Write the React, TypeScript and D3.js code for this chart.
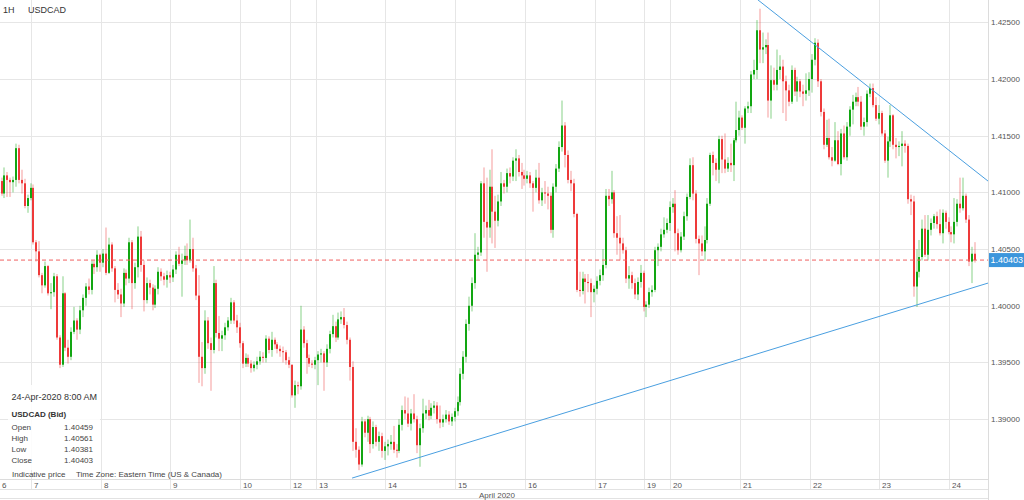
import React from 'react';
import * as d3 from 'd3';

// ---------- data: hourly candles per day, each [close, high, low]; open = previous close ----------
const firstOpen = 1.4110;

const day06 = [
  [1.4099, 1.4113, 1.4097], [1.4115, 1.4122, 1.4095], [1.4111, 1.4118, 1.4096], [1.4109, 1.4113, 1.4096],
  [1.4111, 1.4114, 1.4100], [1.4139, 1.4143, 1.4105], [1.4111, 1.4142, 1.4108], [1.4108, 1.4120, 1.4099],
  [1.4088, 1.4112, 1.4086], [1.4095, 1.4098, 1.4082], [1.4104, 1.4108, 1.4093],
];
const day07 = [
  [1.4056, 1.4107, 1.4054], [1.4048, 1.4058, 1.4039], [1.4027, 1.4057, 1.4025], [1.4018, 1.4029, 1.4011],
  [1.4035, 1.4039, 1.4016], [1.4011, 1.4036, 1.4009], [1.4012, 1.4020, 1.3997], [1.4026, 1.4029, 1.4008],
  [1.3972, 1.4028, 1.3970], [1.3948, 1.3974, 1.3945], [1.4011, 1.4026, 1.3946], [1.3963, 1.4012, 1.3960],
  [1.3955, 1.3970, 1.3949], [1.3977, 1.3981, 1.3952], [1.3987, 1.3999, 1.3975], [1.3979, 1.3989, 1.3970],
  [1.3996, 1.4000, 1.3975], [1.4007, 1.4010, 1.3990], [1.4017, 1.4020, 1.4000], [1.4014, 1.4024, 1.4010],
  [1.4037, 1.4040, 1.4010], [1.4034, 1.4040, 1.4028], [1.4045, 1.4049, 1.4030], [1.4038, 1.4046, 1.4030],
];
const day08 = [
  [1.4046, 1.4050, 1.4034], [1.4029, 1.4069, 1.4027], [1.4054, 1.4060, 1.4028], [1.4033, 1.4056, 1.4030],
  [1.4014, 1.4035, 1.4003], [1.4010, 1.4020, 1.4006], [1.4002, 1.4015, 1.3990], [1.4029, 1.4033, 1.3999],
  [1.4024, 1.4032, 1.4018], [1.4056, 1.4060, 1.4020], [1.4020, 1.4058, 1.3997], [1.4034, 1.4038, 1.4015],
  [1.4061, 1.4070, 1.4025], [1.4036, 1.4066, 1.4030], [1.4005, 1.4040, 1.3995], [1.4020, 1.4025, 1.4002],
  [1.4016, 1.4023, 1.4010], [1.4001, 1.4019, 1.3996], [1.4015, 1.4018, 1.3998], [1.4030, 1.4034, 1.4010],
  [1.4026, 1.4033, 1.4022], [1.4023, 1.4029, 1.4018], [1.4027, 1.4031, 1.4016], [1.4025, 1.4030, 1.4020],
];
const day09 = [
  [1.4032, 1.4036, 1.4021], [1.4045, 1.4048, 1.4028], [1.4037, 1.4052, 1.4035], [1.4040, 1.4046, 1.4008],
  [1.4044, 1.4053, 1.4036], [1.4040, 1.4055, 1.4036], [1.4050, 1.4076, 1.4038], [1.4033, 1.4060, 1.4030],
  [1.4009, 1.4036, 1.4005], [1.3955, 1.4027, 1.3932], [1.3945, 1.3968, 1.3929], [1.3987, 1.3996, 1.3940],
  [1.3967, 1.3990, 1.3962], [1.3961, 1.3972, 1.3925], [1.4020, 1.4035, 1.3958], [1.3976, 1.4023, 1.3972],
  [1.3971, 1.3991, 1.3960], [1.3974, 1.3978, 1.3960], [1.3981, 1.3985, 1.3970], [1.3987, 1.3990, 1.3978],
  [1.4003, 1.4007, 1.3984], [1.3987, 1.4005, 1.3984], [1.3981, 1.3992, 1.3976], [1.3967, 1.3985, 1.3963],
];
const day10 = [
  [1.3949, 1.3969, 1.3945], [1.3954, 1.3958, 1.3946], [1.3949, 1.3957, 1.3946], [1.3945, 1.3952, 1.3941],
  [1.3948, 1.3951, 1.3942], [1.3951, 1.3955, 1.3944], [1.3955, 1.3960, 1.3948], [1.3954, 1.3959, 1.3950],
  [1.3971, 1.3974, 1.3950], [1.3961, 1.3973, 1.3958], [1.3970, 1.3977, 1.3955], [1.3966, 1.3972, 1.3962],
  [1.3962, 1.3968, 1.3958], [1.3960, 1.3965, 1.3955], [1.3959, 1.3964, 1.3950], [1.3952, 1.3961, 1.3948],
  [1.3948, 1.3955, 1.3945],
];
const day12 = [
  [1.3921, 1.3948, 1.3919], [1.3930, 1.3934, 1.3910], [1.3929, 1.3933, 1.3922], [1.3979, 1.4000, 1.3926],
  [1.3967, 1.3982, 1.3963], [1.3954, 1.3970, 1.3940], [1.3949, 1.3957, 1.3946], [1.3948, 1.3952, 1.3945],
  [1.3952, 1.3955, 1.3944],
];
const day13 = [
  [1.3957, 1.3960, 1.3930], [1.3958, 1.3962, 1.3950], [1.3950, 1.3960, 1.3925], [1.3962, 1.3966, 1.3946],
  [1.3975, 1.3978, 1.3958], [1.3982, 1.3992, 1.3972], [1.3972, 1.3986, 1.3968], [1.3988, 1.3994, 1.3970],
  [1.3990, 1.3995, 1.3984], [1.3983, 1.3998, 1.3980], [1.3970, 1.3986, 1.3966], [1.3946, 1.3972, 1.3934],
  [1.3880, 1.3951, 1.3872], [1.3873, 1.3892, 1.3866], [1.3860, 1.3876, 1.3855], [1.3898, 1.3902, 1.3858],
  [1.3888, 1.3900, 1.3884], [1.3900, 1.3903, 1.3880], [1.3878, 1.3902, 1.3870], [1.3893, 1.3898, 1.3874],
  [1.3880, 1.3895, 1.3876], [1.3885, 1.3889, 1.3872], [1.3872, 1.3888, 1.3866], [1.3876, 1.3880, 1.3864],
];
const day14 = [
  [1.3878, 1.3882, 1.3868], [1.3880, 1.3886, 1.3873], [1.3873, 1.3894, 1.3870], [1.3872, 1.3878, 1.3866],
  [1.3895, 1.3900, 1.3870], [1.3908, 1.3912, 1.3890], [1.3905, 1.3920, 1.3900], [1.3896, 1.3919, 1.3893],
  [1.3905, 1.3909, 1.3890], [1.3900, 1.3922, 1.3897], [1.3877, 1.3903, 1.3870], [1.3892, 1.3896, 1.3858],
  [1.3905, 1.3918, 1.3888], [1.3908, 1.3912, 1.3900], [1.3903, 1.3917, 1.3899], [1.3910, 1.3914, 1.3900],
  [1.3912, 1.3916, 1.3905], [1.3900, 1.3915, 1.3896], [1.3897, 1.3912, 1.3892], [1.3900, 1.3904, 1.3893],
  [1.3904, 1.3908, 1.3897], [1.3898, 1.3907, 1.3895], [1.3902, 1.3905, 1.3894], [1.3907, 1.3910, 1.3898],
];
const day15 = [
  [1.3915, 1.3920, 1.3903], [1.3940, 1.3945, 1.3912], [1.3955, 1.3960, 1.3935], [1.3984, 1.3988, 1.3950],
  [1.4000, 1.4008, 1.3978], [1.4020, 1.4025, 1.3995], [1.4045, 1.4064, 1.4015], [1.4047, 1.4052, 1.4040],
  [1.4108, 1.4110, 1.4044], [1.4074, 1.4122, 1.4060], [1.4069, 1.4113, 1.4030], [1.4105, 1.4120, 1.4060],
  [1.4083, 1.4138, 1.4055], [1.4075, 1.4097, 1.4051], [1.4092, 1.4098, 1.4070], [1.4108, 1.4118, 1.4088],
  [1.4105, 1.4111, 1.4099], [1.4117, 1.4121, 1.4100], [1.4114, 1.4122, 1.4108], [1.4128, 1.4131, 1.4110],
  [1.4130, 1.4138, 1.4110], [1.4118, 1.4133, 1.4114], [1.4115, 1.4126, 1.4103], [1.4112, 1.4120, 1.4106],
];
const day16 = [
  [1.4115, 1.4119, 1.4108], [1.4108, 1.4118, 1.4104], [1.4104, 1.4110, 1.4083], [1.4113, 1.4120, 1.4100],
  [1.4093, 1.4126, 1.4090], [1.4100, 1.4104, 1.4088], [1.4099, 1.4110, 1.4090], [1.4097, 1.4105, 1.4085],
  [1.4067, 1.4100, 1.4064], [1.4105, 1.4108, 1.4060], [1.4121, 1.4125, 1.4100], [1.4140, 1.4145, 1.4118],
  [1.4159, 1.4181, 1.4136], [1.4133, 1.4162, 1.4122], [1.4111, 1.4137, 1.4108], [1.4108, 1.4119, 1.4101],
  [1.4081, 1.4112, 1.4078], [1.4014, 1.4082, 1.4012], [1.4013, 1.4030, 1.4008], [1.4024, 1.4030, 1.4010],
  [1.4021, 1.4028, 1.4002], [1.4020, 1.4028, 1.4012], [1.4012, 1.4024, 1.3990], [1.4015, 1.4018, 1.4003],
];
const day17 = [
  [1.4022, 1.4026, 1.4010], [1.4027, 1.4032, 1.4018], [1.4036, 1.4050, 1.4022], [1.4097, 1.4103, 1.4033],
  [1.4094, 1.4103, 1.4088], [1.4100, 1.4119, 1.4090], [1.4064, 1.4102, 1.4060], [1.4060, 1.4079, 1.4045],
  [1.4055, 1.4080, 1.4040], [1.4049, 1.4060, 1.4046], [1.4024, 1.4052, 1.4020], [1.4027, 1.4035, 1.4015],
  [1.4020, 1.4030, 1.4015], [1.4010, 1.4024, 1.4006], [1.4021, 1.4025, 1.4005], [1.4029, 1.4036, 1.4016],
  [1.3999, 1.4031, 1.3995],
];
const day19 = [
  [1.4001, 1.4004, 1.3990], [1.4012, 1.4016, 1.3998], [1.4014, 1.4018, 1.4008], [1.4049, 1.4052, 1.4012],
  [1.4052, 1.4055, 1.4035], [1.4063, 1.4068, 1.4048], [1.4067, 1.4078, 1.4060], [1.4073, 1.4077, 1.4064],
  [1.4087, 1.4092, 1.4066],
];
const day20 = [
  [1.4090, 1.4095, 1.4082], [1.4064, 1.4102, 1.4048], [1.4049, 1.4068, 1.4045], [1.4061, 1.4065, 1.4047],
  [1.4079, 1.4083, 1.4058], [1.4096, 1.4099, 1.4075], [1.4124, 1.4130, 1.4094], [1.4099, 1.4131, 1.4093],
  [1.4059, 1.4102, 1.4055], [1.4055, 1.4062, 1.4027], [1.4048, 1.4062, 1.4044], [1.4058, 1.4070, 1.4040],
  [1.4090, 1.4095, 1.4055], [1.4133, 1.4135, 1.4088], [1.4126, 1.4136, 1.4115], [1.4120, 1.4130, 1.4110],
  [1.4147, 1.4150, 1.4108], [1.4129, 1.4150, 1.4117], [1.4121, 1.4152, 1.4117], [1.4126, 1.4131, 1.4118],
  [1.4124, 1.4143, 1.4118], [1.4146, 1.4148, 1.4110], [1.4155, 1.4180, 1.4144], [1.4166, 1.4172, 1.4150],
];
const day21 = [
  [1.4157, 1.4168, 1.4155], [1.4174, 1.4176, 1.4143], [1.4176, 1.4180, 1.4170], [1.4204, 1.4207, 1.4170],
  [1.4208, 1.4217, 1.4200], [1.4243, 1.4252, 1.4200], [1.4226, 1.4262, 1.4214], [1.4228, 1.4241, 1.4214],
  [1.4230, 1.4235, 1.4222], [1.4181, 1.4241, 1.4166], [1.4199, 1.4212, 1.4165], [1.4195, 1.4210, 1.4190],
  [1.4208, 1.4226, 1.4190], [1.4211, 1.4221, 1.4200], [1.4198, 1.4217, 1.4170], [1.4190, 1.4203, 1.4163],
  [1.4180, 1.4195, 1.4176], [1.4208, 1.4212, 1.4178], [1.4189, 1.4210, 1.4185], [1.4198, 1.4202, 1.4180],
  [1.4189, 1.4200, 1.4184], [1.4187, 1.4195, 1.4176], [1.4190, 1.4205, 1.4181], [1.4200, 1.4206, 1.4185],
];
const day22 = [
  [1.4217, 1.4222, 1.4188], [1.4232, 1.4236, 1.4212], [1.4198, 1.4235, 1.4193], [1.4171, 1.4200, 1.4167],
  [1.4142, 1.4174, 1.4138], [1.4148, 1.4164, 1.4140], [1.4131, 1.4165, 1.4129], [1.4128, 1.4140, 1.4123],
  [1.4146, 1.4162, 1.4127], [1.4125, 1.4154, 1.4124], [1.4152, 1.4156, 1.4115], [1.4131, 1.4159, 1.4129],
  [1.4158, 1.4162, 1.4128], [1.4173, 1.4176, 1.4150], [1.4180, 1.4186, 1.4160], [1.4184, 1.4188, 1.4176],
  [1.4180, 1.4193, 1.4176], [1.4158, 1.4185, 1.4155], [1.4162, 1.4166, 1.4150], [1.4187, 1.4190, 1.4158],
  [1.4192, 1.4196, 1.4184], [1.4177, 1.4196, 1.4175], [1.4165, 1.4184, 1.4163], [1.4170, 1.4177, 1.4160],
];
const day23 = [
  [1.4152, 1.4172, 1.4150], [1.4128, 1.4155, 1.4126], [1.4145, 1.4149, 1.4113], [1.4168, 1.4177, 1.4140],
  [1.4142, 1.4169, 1.4138], [1.4140, 1.4148, 1.4130], [1.4141, 1.4145, 1.4132], [1.4143, 1.4154, 1.4123],
  [1.4141, 1.4146, 1.4135], [1.4094, 1.4143, 1.4090], [1.4092, 1.4098, 1.4080], [1.4017, 1.4097, 1.4008],
  [1.4030, 1.4050, 1.3999], [1.4043, 1.4058, 1.4025], [1.4068, 1.4076, 1.4040], [1.4045, 1.4080, 1.4043],
  [1.4067, 1.4080, 1.4040], [1.4073, 1.4077, 1.4062], [1.4079, 1.4081, 1.4068], [1.4072, 1.4083, 1.4068],
  [1.4064, 1.4085, 1.4062], [1.4082, 1.4085, 1.4055], [1.4074, 1.4084, 1.4068], [1.4065, 1.4078, 1.4063],
];
const day24 = [
  [1.4063, 1.4070, 1.4056], [1.4074, 1.4095, 1.4055], [1.4090, 1.4094, 1.4070], [1.4086, 1.4113, 1.4082],
  [1.4097, 1.4113, 1.4084], [1.4076, 1.4099, 1.4073], [1.4039, 1.4080, 1.4035], [1.40459, 1.4052, 1.4020],
  [1.40403, 1.40561, 1.40381],
];

const dayLabels = ['6', '7', '8', '9', '10', '12', '13', '14', '15', '16', '17', '19', '20', '21', '22', '23', '24'];
const dayData = [day06, day07, day08, day09, day10, day12, day13, day14, day15, day16, day17, day19, day20, day21, day22, day23, day24];

const priceTicks = [1.39, 1.395, 1.4, 1.405, 1.41, 1.415, 1.42, 1.425];
const lastPrice = 1.40403;
const upperTrend = [[260.8, 1.4270], [340.1, 1.4110]];
const lowerTrend = [[121.2, 1.3848], [340.1, 1.4020]];

const infoRows = [
  ['Open', '1.40459'],
  ['High', '1.40561'],
  ['Low', '1.40381'],
  ['Close', '1.40403'],
];

const FONT = '"Liberation Sans", Arial, Helvetica, sans-serif';
const PLOT_R = 988;
const PLOT_B = 479;
const GREEN = '#12a612';
const RED = '#ee3a3a';

export default function App() {
  const x = d3.scaleLinear().domain([0, 340.1]).range([0, PLOT_R]);
  const y = d3.scaleLinear().domain([1.38472, 1.42697]).range([PLOT_B, 0]);

  const candles: { i: number; o: number; h: number; l: number; c: number }[] = [];
  const dayStarts: { label: string; i: number }[] = [];
  let idx = 0;
  let prev = firstOpen;
  dayData.forEach((d, k) => {
    dayStarts.push({ label: dayLabels[k], i: idx });
    d.forEach(([c, h, l]) => {
      candles.push({ i: idx, o: prev, h, l, c });
      prev = c;
      idx++;
    });
  });

  const line = d3
    .line<number[]>()
    .x((p) => x(p[0]))
    .y((p) => y(p[1]));

  const grid = '#e6e6e6';
  const lastY = y(lastPrice);

  return (
    <div style={{ position: 'fixed', left: 0, top: 0, width: 1024, height: 500, background: '#fff' }}>
      <svg width={1024} height={500} style={{ display: 'block', fontFamily: FONT }}>
        <defs>
          <clipPath id="plotClip">
            <rect x={0} y={0} width={PLOT_R} height={PLOT_B} />
          </clipPath>
        </defs>
        <rect x={0} y={0} width={1024} height={500} fill="#fff" />

        {/* horizontal grid */}
        {priceTicks.map((t) => (
          <line key={'h' + t} x1={0} x2={PLOT_R} y1={Math.round(y(t)) + 0.5} y2={Math.round(y(t)) + 0.5} stroke={grid} strokeWidth={1} />
        ))}
        {/* vertical grid (day boundaries) */}
        {dayStarts
          .filter((d) => d.i > 0)
          .map((d) => {
            const gx = Math.round(x(d.i)) - 0.5;
            return <line key={'v' + d.label} x1={gx} x2={gx} y1={0} y2={490} stroke={grid} strokeWidth={1} />;
          })}

        {/* bottom axis rows */}
        <line x1={0} x2={PLOT_R} y1={PLOT_B + 0.5} y2={PLOT_B + 0.5} stroke="#dcdcdc" />
        <line x1={0} x2={PLOT_R} y1={489.5} y2={489.5} stroke="#e2e2e2" />
        <line x1={0} x2={PLOT_R} y1={498.5} y2={498.5} stroke="#e2e2e2" />
        <line x1={PLOT_R + 0.5} x2={PLOT_R + 0.5} y1={0} y2={500} stroke="#dcdcdc" />

        {/* candles */}
        <g clipPath="url(#plotClip)">
          {candles.map((k) => {
            const up = k.c >= k.o;
            const col = up ? GREEN : RED;
            const bx = Math.round(x(k.i) + 0.5);
            const top = y(Math.max(k.o, k.c));
            const bot = y(Math.min(k.o, k.c));
            return (
              <g key={k.i}>
                <line x1={bx + 1} x2={bx + 1} y1={y(k.h)} y2={y(k.l)} stroke={col} strokeOpacity={0.5} strokeWidth={1} />
                <rect x={bx} y={top} width={2} height={Math.max(1, bot - top)} fill={col} />
              </g>
            );
          })}
          {/* trend lines */}
          <path d={line(upperTrend) || ''} fill="none" stroke="#4a9fe0" strokeWidth={1} />
          <path d={line(lowerTrend) || ''} fill="none" stroke="#4a9fe0" strokeWidth={1} />
          {/* last price line */}
          <line x1={0} x2={PLOT_R} y1={lastY} y2={lastY} stroke="#f06060" strokeWidth={1} strokeDasharray="4,3" />
        </g>

        {/* right axis labels */}
        {priceTicks.map((t) => (
          <text key={'t' + t} x={991} y={y(t)} dy="0.35em" fontSize={8} fill="#555">
            {d3.format('.5f')(t)}
          </text>
        ))}
        <rect x={989} y={lastY - 7} width={35} height={14} fill="#3c96dc" />
        <text x={990.5} y={lastY} dy="0.35em" fontSize={9} fill="#fff">
          {d3.format('.5f')(lastPrice)}
        </text>

        {/* day labels */}
        {dayStarts.map((d) => (
          <text key={'d' + d.label} x={Math.round(x(d.i)) + 2} y={487.5} fontSize={8} fill="#555">
            {d.label}
          </text>
        ))}
        <text x={497} y={497.5} fontSize={8} fill="#555" textAnchor="middle">
          April 2020
        </text>

        {/* title */}
        <text x={3} y={12.5} fontSize={9} fill="#333">1H</text>
        <text x={28} y={12.5} fontSize={9} fill="#333">USDCAD</text>

        {/* info box */}
        <rect x={8} y={385} width={92} height={85} fill="#fff" fillOpacity={0.85} />
        <text x={11.5} y={400} fontSize={9} fill="#333">24-Apr-2020 8:00 AM</text>
        <text x={11.5} y={416.5} fontSize={8} fill="#333" fontWeight="bold">USDCAD (Bid)</text>
        {infoRows.map((r, k) => (
          <g key={r[0]}>
            <text x={11.5} y={429.5 + k * 11.3} fontSize={8} fill="#444">{r[0]}</text>
            <text x={93} y={429.5 + k * 11.3} fontSize={8} fill="#444" textAnchor="end">{r[1]}</text>
          </g>
        ))}
        <text x={12} y={477} fontSize={8} fill="#444">Indicative price</text>
        <text x={76} y={477} fontSize={8} fill="#444">Time Zone: Eastern Time (US &amp; Canada)</text>
      </svg>
    </div>
  );
}
